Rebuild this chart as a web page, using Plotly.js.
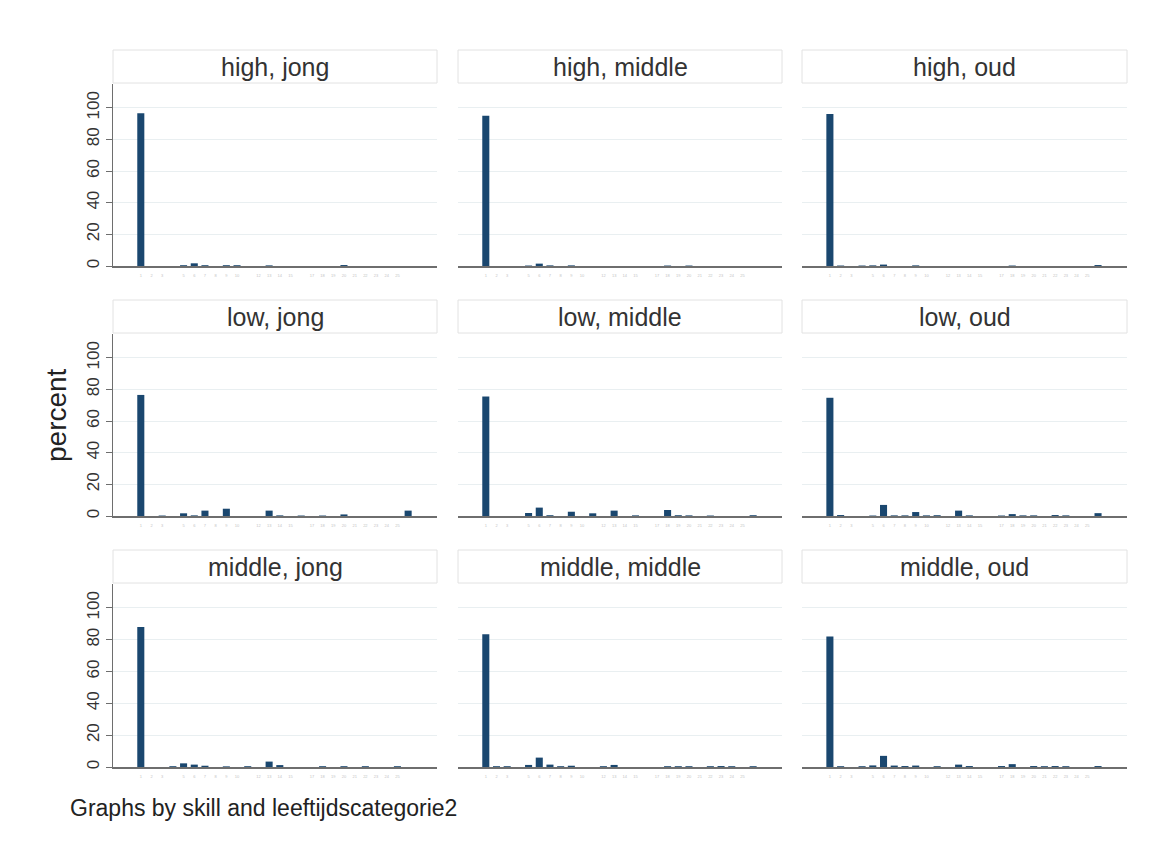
<!DOCTYPE html>
<html>
<head>
<meta charset="utf-8">
<script src="https://cdn.plot.ly/plotly-3.0.1.min.js"></script>
<style>html,body{margin:0;padding:0;background:#fff;}#chart{width:1157px;height:845px;}</style>
</head>
<body>
<div id="chart"></div>
<script>
// categories (index of the x-variable)
var categories = [0,1,2,3,4,5,6,7,8,9,10,11,12,13,14,15,16,17,18,19,20,21,22,23,24,25];
var tickCats   = [0,1,2,4,5,6,7,8,9,11,12,13,14,16,17,18,19,20,21,22,23,24];
var tickLabels = ["1","2","3","5","6","7","8","9","10","12","13","14","15","17","18","19","20","21","22","23","24","25"];

var panelTitles = ["high, jong","high, middle","high, oud",
                   "low, jong","low, middle","low, oud",
                   "middle, jong","middle, middle","middle, oud"];

//                 0    1   2   3   4   5   6   7   8   9  10  11  12  13  14  15  16  17  18  19  20  21  22  23  24  25
var highJong    = [96.5,0,  0,  0,  0.5,1.7,0.5,0,  0.5,0.5,0,  0,  0.4,0,  0,  0,  0,  0,  0,  0.6,0,  0,  0,  0,  0,  0];
var highMiddle  = [95,  0,  0,  0,  0.3,1.5,0.4,0,  0.4,0,  0,  0,  0,  0,  0,  0,  0,  0.3,0,  0.3,0,  0,  0,  0,  0,  0];
var highOud     = [96,  0.3,0,  0.3,0.4,0.9,0,  0,  0.4,0,  0,  0,  0,  0,  0,  0,  0,  0.3,0,  0,  0,  0,  0,  0,  0,  0.6];
var lowJong     = [76.5,0,  0.3,0,  1.7,0.4,3.4,0,  4.6,0,  0,  0,  3.4,0.4,0,  0.3,0,  0.3,0,  1.0,0,  0,  0,  0,  0,  3.4];
var lowMiddle   = [75.5,0,  0,  0,  1.9,5.3,0.5,0,  2.7,0,  1.7,0,  3.4,0,  0.4,0,  0,  3.8,0.5,0.4,0,  0.3,0,  0,  0,  0.5];
var lowOud      = [74.7,0.6,0,  0,  0.3,7.0,0.4,0.4,2.5,0.4,0.5,0,  3.4,0.4,0,  0,  0.3,1.2,0.4,0.4,0,  0.6,0.4,0,  0,  1.8];
var middleJong  = [88,  0,  0,  0.5,2.3,1.5,0.8,0,  0.4,0,  0.5,0,  3.4,1.2,0,  0,  0,  0.5,0,  0.5,0,  0.5,0,  0,  0.5,0];
var middleMiddle= [83.5,0.5,0.5,0,  1.3,5.9,1.5,0.5,0.8,0,  0,  0.5,1.3,0,  0,  0,  0,  0.5,0.5,0.5,0,  0.5,0.6,0.5,0,  0.5];
var middleOud   = [82,  0.5,0,  0.5,1.0,7.0,0.9,0.6,0.9,0,  0.5,0,  1.5,0.6,0,  0,  0.6,1.8,0,  0.6,0.5,0.6,0.5,0,  0,  0.6];

var yTicks = [0,20,40,60,80,100];

var series = [highJong, highMiddle, highOud, lowJong, lowMiddle, lowOud, middleJong, middleMiddle, middleOud];

var W = 1157, H = 845;
var colX = [[113,437],[458,782],[802,1127]];
var rowY = [[84,266],[334,516],[584,767]];   // plot top, bottom (px)
var headY = [[50,83],[300,333],[550,583]];

var FONT = "Liberation Sans, Arial, sans-serif";
var data = [];
var layout = {
  width: W, height: H,
  margin: {l:0, r:0, t:0, b:0},
  paper_bgcolor: "#ffffff",
  plot_bgcolor: "#ffffff",
  showlegend: false,
  font: {family: FONT, color: "#333333"},
  shapes: [], annotations: []
};

for (var i = 0; i < 9; i++) {
  var r = Math.floor(i / 3), c = i % 3;
  var n = i + 1;
  var xa = n === 1 ? "x" : "x" + n;
  var ya = n === 1 ? "y" : "y" + n;
  data.push({
    type: "bar", x: categories, y: series[i],
    xaxis: xa, yaxis: ya,
    marker: {color: "#1a476f", line: {width: 0}},
    width: 0.66,
    hoverinfo: "x+y"
  });
  layout["xaxis" + (n === 1 ? "" : n)] = {
    domain: [colX[c][0] / W, colX[c][1] / W],
    anchor: ya,
    range: [-2.6, 27.7],
    showgrid: false, zeroline: false,
    showline: true, linecolor: "#6e6e6e", linewidth: 1.5,
    tickmode: "array", tickvals: tickCats, ticktext: tickLabels,
    ticks: "", tickfont: {size: 4, color: "#c4c4c4"},
    ticklabelstandoff: 5,
    fixedrange: true
  };
  layout["yaxis" + (n === 1 ? "" : n)] = {
    domain: [1 - rowY[r][1] / H, 1 - rowY[r][0] / H],
    anchor: xa,
    range: [0, 115],
    tickmode: "array", tickvals: yTicks,
    showgrid: true, gridcolor: "#e9eff1", gridwidth: 1,
    zeroline: false,
    showline: c === 0, linecolor: "#6e6e6e", linewidth: 1.5,
    ticks: c === 0 ? "outside" : "", ticklen: 6, tickcolor: "#6e6e6e",
    showticklabels: c === 0,
    tickangle: -90,
    tickfont: {size: 17, color: "#333333", family: FONT},
    fixedrange: true
  };
  layout.shapes.push({
    type: "rect", xref: "paper", yref: "paper",
    x0: colX[c][0] / W, x1: colX[c][1] / W,
    y0: 1 - headY[r][1] / H, y1: 1 - headY[r][0] / H,
    line: {color: "#e2e2e2", width: 1}, fillcolor: "#ffffff", layer: "below"
  });
  layout.annotations.push({
    xref: "paper", yref: "paper",
    x: (colX[c][0] + colX[c][1]) / 2 / W,
    y: 1 - (headY[r][0] + headY[r][1]) / 2 / H,
    xanchor: "center", yanchor: "middle",
    text: panelTitles[i], showarrow: false,
    font: {size: 25, color: "#333333", family: FONT}
  });
}

layout.annotations.push({
  xref: "paper", yref: "paper", x: 56 / W, y: 1 - 415 / H,
  xanchor: "center", yanchor: "middle", textangle: -90,
  text: "percent", showarrow: false,
  font: {size: 28, color: "#222222", family: FONT}
});
layout.annotations.push({
  xref: "paper", yref: "paper", x: 68 / W, y: 1 - 808 / H,
  xanchor: "left", yanchor: "middle",
  text: "Graphs by skill and leeftijdscategorie2", showarrow: false,
  font: {size: 23, color: "#222222", family: FONT}
});

Plotly.newPlot("chart", data, layout, {displayModeBar: false, staticPlot: true});
</script>
</body>
</html>
